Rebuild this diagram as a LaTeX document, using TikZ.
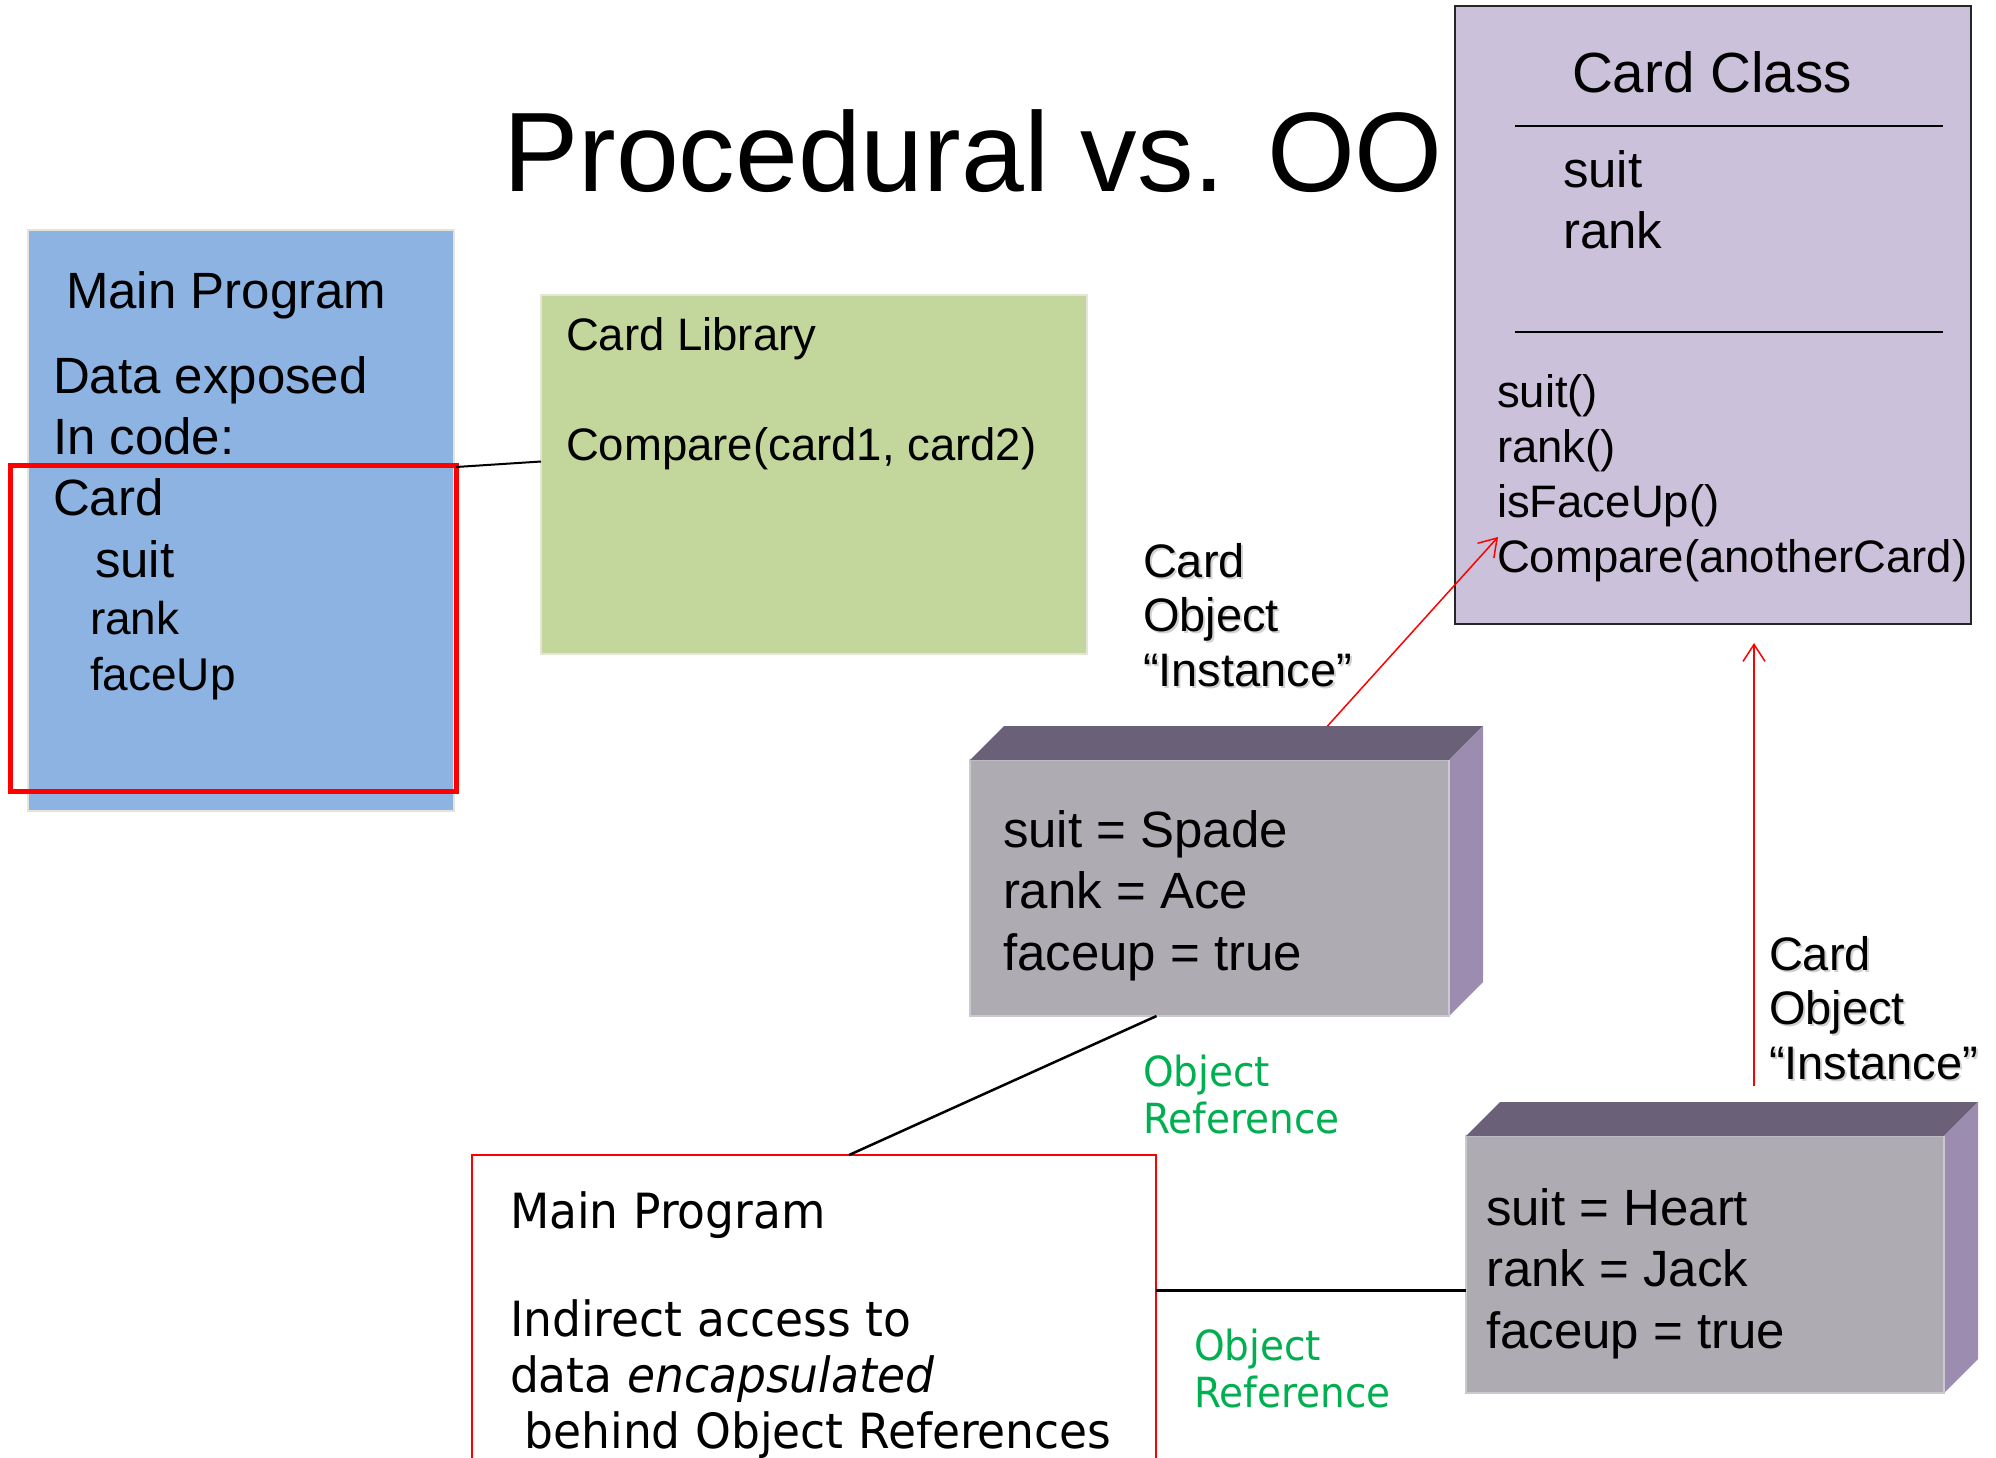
\documentclass[tikz,border=0pt]{standalone}
\usepackage{fontspec}
\setmainfont{Liberation Sans}
\newfontfamily\narrowsf[FakeStretch=0.94]{DejaVu Sans}
\usepackage{xcolor}
\usepackage{tikz}
\usetikzlibrary{calc,arrows.meta}
\definecolor{progblue}{HTML}{8DB3E2}
\definecolor{boxrim}{HTML}{E6E4D8}
\definecolor{libgreen}{HTML}{C3D69B}
\definecolor{classlilac}{HTML}{CCC1DA}
\definecolor{classrim}{HTML}{262626}
\definecolor{slabfront}{HTML}{AEABB3}
\definecolor{slabtop}{HTML}{6A6078}
\definecolor{slabside}{HTML}{9C8DB0}
\definecolor{slabrim}{HTML}{CBC8CF}
\definecolor{refgreen}{HTML}{00B050}

\newcommand{\fs}[2]{\fontsize{#1}{#2}\selectfont}
% top and side faces of a card object
\newcommand{\cardslab}[1]{%
  \fill[slabtop] (#1.north west) -- ++(34,-34) -- ($(#1.north east)+(34,-34)$) -- (#1.north east) -- cycle;
  \fill[slabside] (#1.north east) -- ++(34,-34) -- ($(#1.south east)+(34,-34)$) -- (#1.south east) -- cycle;
  \draw[slabrim,line width=2pt] (#1.north east) -- (#1.south east);
}

\tikzset{
  box/.style={rectangle,inner sep=0pt,outer sep=0pt,anchor=north west},
  txt/.style={inner sep=0pt,outer sep=0pt,anchor=base west,align=left},
  slab/.style={box,fill=slabfront,draw=slabrim,line width=1.5pt},
  link/.style={draw=black,line width=2.5pt},
  callarrow/.style={draw=red,line width=1.5pt,-{Straight Barb[length=17pt,width=22pt,line width=1.5pt]}},
  instlabel/.style={txt,font=\fs{47}{54.5}},
}

\begin{document}
\begin{tikzpicture}[x=1pt,y=-1pt]
\useasboundingbox (0,0) rectangle (1996,1457);

% procedural side (multi-line texts sit on their last baseline)
\node[box,fill=progblue,draw=boxrim,line width=2pt,minimum width=426pt,minimum height=581pt] (mainprog) at (28,230) {};
\node[box,fill=libgreen,draw=boxrim,line width=2pt,minimum width=546pt,minimum height=359pt] (library) at (541,295) {};
\node[box,draw=red,line width=5pt,minimum width=446pt,minimum height=326pt] (codeframe) at (10,465) {};
\draw[link,line width=2pt] ([yshift=-2pt]codeframe.north east) -- ([yshift=13pt]library.west);

\node[txt,font=\fs{51}{61}] (progtitle) at (66,308) {Main Program};
\node[txt,font=\fs{51}{61}] (exposed) at (53,515) {Data exposed\\In code:\\Card};
\node[txt,font=\fs{51}{61}] (cardsuit) at (95,577) {suit};
\node[txt,font=\fs{46}{56}] (cardrest) at (90,690) {rank\\faceUp};
\node[txt,font=\fs{45.5}{55}] (libtext) at (566,460) {Card Library\\ \\Compare(card1, card2)};

\node[txt,font=\fs{113}{136}] (title) at (503,191) {Procedural vs. OO};

% the class
\node[box,fill=classlilac,draw=classrim,line width=2.5pt,minimum width=516pt,minimum height=618pt] (classbox) at (1455,6) {};
\node[inner sep=0pt,anchor=base,font=\fs{56.6}{68}] (classname) at (1712,92) {Card Class};
\draw[black,line width=2.5pt] (1515,126) -- (1943,126);
\draw[black,line width=2.5pt] (1515,332) -- (1943,332);
\node[txt,font=\fs{51}{61}] (classfields) at (1563,248) {suit\\rank};
\node[txt,font=\fs{45.5}{55}] (classmethods) at (1497,572) {suit()\\rank()\\isFaceUp()\\Compare(anotherCard)};

% card objects
\node[slab,minimum width=479pt,minimum height=256pt] (spade) at (970,760) {};
\cardslab{spade}
\node[txt,font=\fs{51}{61.5}] (spadetext) at (1003,970) {suit = Spade\\rank = Ace\\faceup = true};

\node[slab,minimum width=478pt,minimum height=257pt] (heart) at (1466,1136) {};
\cardslab{heart}
\node[txt,font=\fs{51}{61.5}] (hearttext) at (1486,1348) {suit = Heart\\rank = Jack\\faceup = true};

\node[instlabel,black!18] (spadeshadow) at (1145,688) {Card\\Object\\“Instance”};
\node[instlabel] (spadelabel) at (1143,686) {Card\\Object\\“Instance”};
\node[instlabel,black!18] (heartshadow) at (1771,1081) {Card\\Object\\“Instance”};
\node[instlabel] (heartlabel) at (1769,1079) {Card\\Object\\“Instance”};

% main program with references
\node[box,draw=red,line width=2pt,minimum width=684pt,minimum height=330pt] (mainref) at (472,1155) {};
\node[txt,font=\narrowsf\fs{48.5}{56}] (reftitle) at (510,1228) {Main Program};
\node[txt,font=\narrowsf\fs{48.5}{56}] (reftext) at (510,1448) {Indirect access to\\data \emph{encapsulated}\\\ behind Object References};

\coordinate (heartref) at ($(heart.west)+(0,26)$);
\draw[link] ([xshift=-53pt]spade.south) -- ([xshift=35pt]mainref.north);
\draw[link] (mainref.east |- heartref) -- (heartref);
\node[txt,refgreen,font=\narrowsf\fs{41.5}{47}] (spaderef) at (1143,1133) {Object\\Reference};
\node[txt,refgreen,font=\narrowsf\fs{41.5}{47}] (heartrefl) at (1194,1407) {Object\\Reference};

% instance-of arrows
\coordinate (heartcall) at ($(heart.north)+(49,-50)$);
\draw[callarrow] ($(spade.north)+(118,-34)$) -- ($(classbox.west)+(43,222)$);
\draw[callarrow] (heartcall) -- ($(heartcall |- classbox.south)+(0,19)$);
\end{tikzpicture}
\end{document}
